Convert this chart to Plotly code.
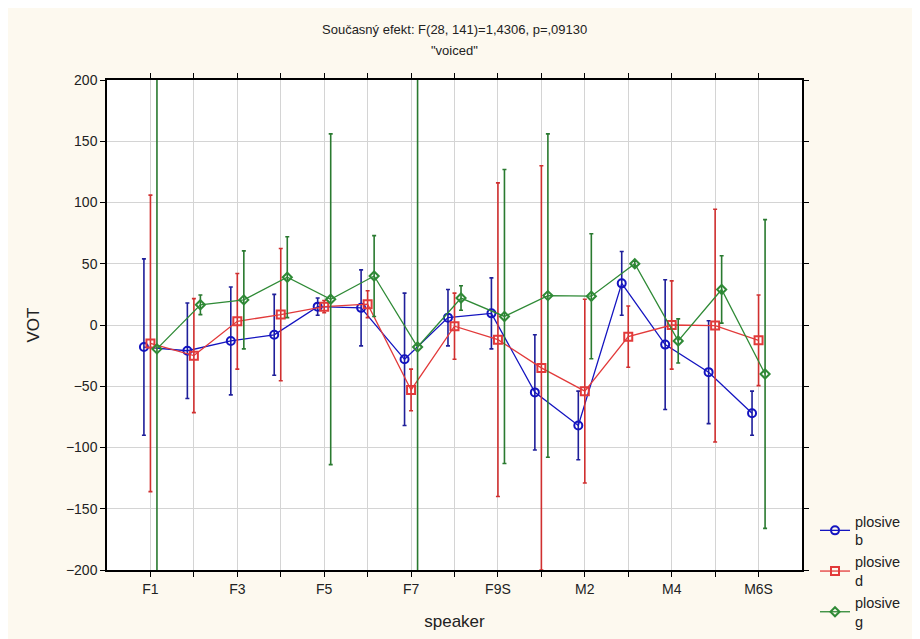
import plotly.graph_objects as go

categories = ["F1", "F2", "F3", "F4", "F5", "F6", "F7", "F8", "F9S",
              "M1", "M2", "M3", "M4", "M5", "M6S"]
tick_labels = ["F1", "", "F3", "", "F5", "", "F7", "", "F9S",
               "", "M2", "", "M4", "", "M6S"]

b_mean = [-18, -21, -13, -8, 15, 14, -28, 6, 9.5, -55, -82, 34, -16, -38.5, -72]
b_err = [72, 39, 44, 33, 7, 31, 54, 23, 29, 47, 28, 26, 53, 42, 18]

d_mean = [-15, -25, 3, 8.5, 15, 17, -53, -1, -12, -35, -54, -9.5, 0, -0.5, -12.5]
d_err = [121, 46.5, 39, 54, 5, 11, 17, 27, 128, 165, 75, 25, 36, 95, 37]

g_mean = [-19.5, 16.5, 20.5, 39, 21, 40, -18, 22, 7, 24, 23.5, 50, -13, 29, -40]
g_err = [300, 8, 40, 33, 135, 33, 260, 10, 120, 132, 51, 2, 18, 27.5, 126]

series = [
    ("plosive<br>b", b_mean, b_err, "#1414c0", "#1f1f9a", "circle-open", -0.15, 8),
    ("plosive<br>d", d_mean, d_err, "#e23a3a", "#d03030", "square-open", 0.0, 8),
    ("plosive<br>g", g_mean, g_err, "#2f8a36", "#2a7a30", "diamond-open", 0.15, 7),
]

fig = go.Figure()
idx = list(range(len(categories)))
for name, ys, errs, col, ecol, sym, off, ms in series:
    fig.add_trace(go.Scatter(
        x=[i + off for i in idx], y=ys, name=name, mode="lines+markers",
        line=dict(color=col, width=1.3),
        marker=dict(symbol=sym, size=ms, color=col, line=dict(width=2, color=col)),
        error_y=dict(type="data", array=errs, visible=True, color=ecol,
                     thickness=1.6, width=2),
    ))

# page body has an 8px offset; compensate
W, H, OFF = 912, 631, 8
L, R, T, B = 107 - OFF, 920 - 802, 80 - OFF, 639 - 570
plot_h = H - T - B

fig.update_layout(
    width=W, height=H,
    paper_bgcolor="#fdf9ef", plot_bgcolor="white",
    margin=dict(l=L, r=R, t=T, b=B, autoexpand=False),
    font=dict(family="Liberation Sans, Arial, sans-serif", size=14, color="#222"),
    showlegend=True,
    legend=dict(x=(815 - OFF) / W, xanchor="left", xref="container",
                y=(639 - 505) / H, yanchor="top", yref="container",
                bgcolor="rgba(0,0,0,0)", font=dict(size=14.5), tracegroupgap=0,
                itemwidth=30),
    annotations=[
        dict(text="Současný efekt: F(28, 141)=1,4306, p=,09130", x=0.5,
             y=1 + (T - (29 - OFF)) / plot_h, yanchor="middle",
             xref="paper", yref="paper", showarrow=False,
             font=dict(size=13)),
        dict(text="\"voiced\"", x=0.5,
             y=1 + (T - (51 - OFF)) / plot_h, yanchor="middle",
             xref="paper", yref="paper", showarrow=False,
             font=dict(size=13)),
    ],
)

fig.update_xaxes(
    range=[-1, 15], tickmode="array", tickvals=idx, ticktext=tick_labels,
    showgrid=True, gridcolor="#d4d4d4", gridwidth=1,
    showline=True, linecolor="black", linewidth=1.5, mirror="ticks",
    ticks="outside", ticklen=5, tickcolor="black",
    title=dict(text="speaker", standoff=20), zeroline=False,
)
fig.update_yaxes(
    range=[-200, 200], tickmode="linear", tick0=-200, dtick=50,
    showgrid=True, gridcolor="#d4d4d4", gridwidth=1,
    showline=True, linecolor="black", linewidth=1.5, mirror="ticks",
    ticks="outside", ticklen=5, tickcolor="black",
    title=dict(text="VOT", standoff=22), zeroline=False,
)

fig.write_html("out.html")
